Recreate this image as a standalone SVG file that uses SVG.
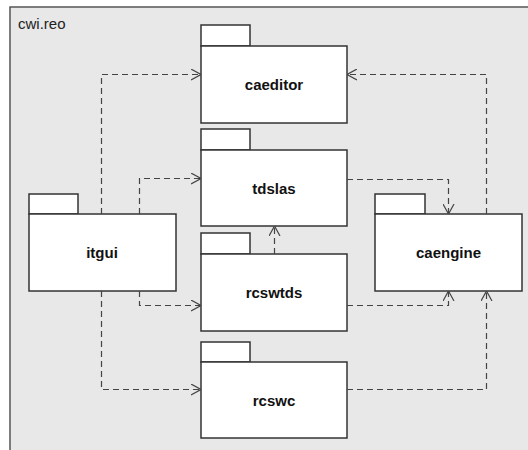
<svg xmlns="http://www.w3.org/2000/svg" width="528" height="450" viewBox="0 0 528 450">
<style>
.frame{fill:#e8e8e8;stroke:#555;stroke-width:1.5}
.box{fill:#fff;stroke:#333;stroke-width:1.5}
.lbl{font-family:"Liberation Sans",Arial,sans-serif;font-size:15px;font-weight:bold;fill:#111;text-anchor:middle;dominant-baseline:central}
.dep{fill:none;stroke:#444;stroke-width:1.2;stroke-dasharray:6,4}
</style>
<defs>
<marker id="open" viewBox="0 0 10 12" refX="10" refY="6" markerWidth="10" markerHeight="12" markerUnits="userSpaceOnUse" orient="auto">
<path d="M0,0.5 L10,6 L0,11.5" fill="none" stroke="#444" stroke-width="1.2"/>
</marker>
</defs>
<rect class="frame" x="10" y="7" width="525" height="450"/>
<text x="18" y="29" font-family="'Liberation Sans',Arial,sans-serif" font-size="15" fill="#222">cwi.reo</text>
<g id="caeditor">
<rect class="box" x="201" y="25" width="49" height="21"/>
<rect class="box" x="201" y="46" width="146" height="77"/>
<text class="lbl" x="274" y="84.5">caeditor</text>
</g>
<g id="tdslas">
<rect class="box" x="201" y="129" width="49" height="21"/>
<rect class="box" x="201" y="150" width="146" height="76"/>
<text class="lbl" x="274" y="188">tdslas</text>
</g>
<g id="itgui">
<rect class="box" x="29" y="194" width="49" height="20"/>
<rect class="box" x="29" y="214" width="147" height="77"/>
<text class="lbl" x="102" y="252.5">itgui</text>
</g>
<g id="rcswtds">
<rect class="box" x="201" y="233" width="49" height="21"/>
<rect class="box" x="201" y="254" width="146" height="77"/>
<text class="lbl" x="274" y="292.5">rcswtds</text>
</g>
<g id="caengine">
<rect class="box" x="375" y="194" width="50" height="20"/>
<rect class="box" x="375" y="214" width="147" height="77"/>
<text class="lbl" x="448.5" y="252.5">caengine</text>
</g>
<g id="rcswc">
<rect class="box" x="201" y="342" width="49" height="20"/>
<rect class="box" x="201" y="362" width="146" height="76"/>
<text class="lbl" x="274" y="400">rcswc</text>
</g>
<g id="connectors">
<path class="dep" d="M101.5,214 V74.5 H201" marker-end="url(#open)"/>
<path class="dep" d="M486.5,214 V74.5 H347" marker-end="url(#open)"/>
<path class="dep" d="M139.5,214 V178.5 H201" marker-end="url(#open)"/>
<path class="dep" d="M347,179.5 H448.5 V214" marker-end="url(#open)"/>
<path class="dep" d="M274.5,254 V226" marker-end="url(#open)"/>
<path class="dep" d="M139.5,291 V305.5 H201" marker-end="url(#open)"/>
<path class="dep" d="M347,305.5 H448.5 V291" marker-end="url(#open)"/>
<path class="dep" d="M101.5,291 V389.5 H201" marker-end="url(#open)"/>
<path class="dep" d="M347,389.5 H486.5 V291" marker-end="url(#open)"/>
</g>
</svg>
